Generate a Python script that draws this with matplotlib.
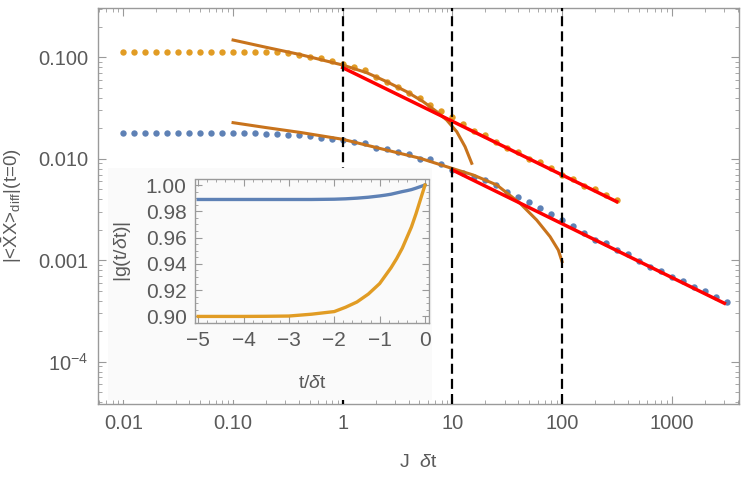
import matplotlib
matplotlib.use("Agg")
import matplotlib.pyplot as plt
from matplotlib.patches import Rectangle
from matplotlib.ticker import LogLocator, MultipleLocator, NullFormatter

plt.rcParams['font.family'] = ['Liberation Sans', 'DejaVu Sans']
plt.rcParams['mathtext.fontset'] = 'custom'
plt.rcParams['mathtext.rm'] = 'Liberation Sans'
plt.rcParams['mathtext.it'] = 'Liberation Sans:italic'

# dots: J dt = 10^(-2 + 0.1 k)
k_orange = list(range(46))
k_blue = list(range(56))
orange_dots = [0.112] * 15 + [
    0.1095, 0.1054, 0.1014, 0.0984, 0.0919, 0.0859, 0.0808, 0.0750, 0.0644, 0.0567,
    0.0506, 0.0448, 0.0397, 0.0339, 0.0296, 0.0256, 0.0220, 0.0189, 0.0170, 0.0146,
    0.0127, 0.0117, 0.00989, 0.00924, 0.00806, 0.00692, 0.00628, 0.00540, 0.00501,
    0.00440, 0.00393]
blue_dots = [0.01783] * 13 + [
    0.01755, 0.01743, 0.01716, 0.01697, 0.01666, 0.01614, 0.0157, 0.0154, 0.01474,
    0.01421, 0.01269, 0.01241, 0.01175, 0.01115, 0.00989, 0.00989, 0.00883, 0.00784,
    0.00725, 0.00666, 0.00618, 0.00552, 0.00474, 0.00418, 0.00378, 0.00330, 0.00286,
    0.00248, 0.00216, 0.00185, 0.00160, 0.00147, 0.00126, 0.00115, 0.000991, 0.000865,
    0.000785, 0.000690, 0.000625, 0.000542, 0.000498, 0.000432, 0.000391]

# short-time curves
brown_o_t = [0.1, 0.2, 0.408, 1.0, 1.655, 2.52, 3.83, 5.43, 7.2, 8.87, 10.95, 13.04, 15.0]
brown_o_y = [0.148, 0.1255, 0.1065, 0.0839, 0.0705, 0.0575, 0.0458, 0.0365, 0.0291, 0.0241,
             0.0185, 0.01316, 0.00903]
brown_b_t = [0.1, 0.2, 0.408, 1.0, 2.345, 5.07, 9.86, 15.5, 25.4, 41.4, 58.7, 77.7, 92.4, 100.0]
brown_b_y = [0.0227, 0.0203, 0.0182, 0.01556, 0.01241, 0.01012, 0.00806, 0.00692, 0.00552,
             0.00364, 0.00249, 0.00171, 0.00126, 0.000969]

# power-law fits
red_o_t = [1.0, 315.0]
red_o_y = [0.0790, 0.00378]
red_b_t = [10.0, 3020.0]
red_b_y = [0.00776, 0.000377]

vlines = [1, 10, 100]

# inset
t_in = [-5, -4, -3.5, -3, -2.5, -2, -1.75, -1.5, -1.25, -1, -0.875, -0.75, -0.625, -0.5,
        -0.4, -0.3, -0.2, -0.1, -0.05, 0]
g_blue = [0.989, 0.989, 0.989, 0.989, 0.989, 0.9892, 0.9895, 0.990, 0.9907, 0.9917, 0.9923,
          0.993, 0.994, 0.995, 0.9957, 0.9965, 0.9976, 0.9988, 0.9994, 1.0]
g_orange = [0.900, 0.900, 0.9001, 0.9003, 0.9017, 0.9037, 0.907, 0.911, 0.917, 0.925, 0.931,
            0.937, 0.944, 0.952, 0.960, 0.968, 0.978, 0.989, 0.9945, 1.0]

xticks = [0.01, 0.1, 1, 10, 100, 1000]
xticklabels = ['0.01', '0.10', '1', '10', '100', '1000']
yticks = [1e-4, 1e-3, 1e-2, 1e-1]
yticklabels = [r'$\mathregular{10^{-4}}$', '0.001', '0.010', '0.100']

c_blue = '#5E81B5'
c_orange = '#E19C24'
c_brown = '#C8731C'
c_red = '#FF0000'
c_frame = '#9a9a9a'
c_text = '#5a5a5a'

fig = plt.figure(figsize=(7.5, 4.8), dpi=100)
ax = fig.add_axes([97.7 / 750, 1 - 404.3 / 480, (739.3 - 97.7) / 750, (404.3 - 8.3) / 480])
ax.set_xscale('log')
ax.set_yscale('log')

to = [10 ** (-2 + 0.1 * k) for k in k_orange]
tb = [10 ** (-2 + 0.1 * k) for k in k_blue]
ax.plot(to, orange_dots, 'o', color=c_orange, ms=4.6, mec='none', zorder=2)
ax.plot(tb, blue_dots, 'o', color=c_blue, ms=4.6, mec='none', zorder=2)
ax.plot(brown_o_t, brown_o_y, color=c_brown, lw=2.2, zorder=3)
ax.plot(brown_b_t, brown_b_y, color=c_brown, lw=2.2, zorder=3)
ax.plot(red_o_t, red_o_y, color=c_red, lw=2.5, zorder=4)
ax.plot(red_b_t, red_b_y, color=c_red, lw=2.5, zorder=4)
for v in vlines:
    ax.axvline(v, color='black', lw=1.6, dashes=(4.5, 2.3), zorder=5)

ax.set_xlim(0.00583, 4130)
ax.set_ylim(3.81e-5, 0.304)
ax.set_xticks(xticks)
ax.set_xticklabels(xticklabels)
ax.set_yticks(yticks)
ax.set_yticklabels(yticklabels)
ax.xaxis.set_minor_locator(LogLocator(base=10, subs=range(2, 10), numticks=20))
ax.yaxis.set_minor_locator(LogLocator(base=10, subs=range(2, 10), numticks=20))
ax.xaxis.set_minor_formatter(NullFormatter())
ax.yaxis.set_minor_formatter(NullFormatter())
ax.tick_params(which='both', direction='in', top=True, right=True, color=c_frame,
               labelcolor=c_text, labelsize=14.5)
ax.tick_params(which='major', length=6, width=0.8, pad=7)
ax.tick_params(which='minor', length=3, width=0.6)
for s in ax.spines.values():
    s.set_color(c_frame)
    s.set_linewidth(1.0)

ax.set_xlabel(r'J  $\delta$t', fontsize=14, color=c_text, labelpad=15)
# y label placed by hand, centred at x = 12 px
fig.text(12 / 750, 1 - 206 / 480,
         '|<' + r'$\bar{\mathrm{X}}$' + 'X>' + r'$_{\mathregular{diff}}$' + '|(t=0)',
         fontsize=13.5, color=c_text, rotation=90, ha='center', va='center')

# background of the inset
bg = Rectangle((108 / 750, 1 - 400 / 480), (432 - 108) / 750, (400 - 168) / 480,
               transform=fig.transFigure, facecolor='#fafafa', edgecolor='none', zorder=1)
fig.patches.append(bg)

ins = fig.add_axes([195 / 750, 1 - 323 / 480, (428.5 - 195) / 750, (323 - 179.5) / 480], zorder=2)
ins.plot(t_in, g_blue, color=c_blue, lw=2.4)
ins.plot(t_in, g_orange, color=c_orange, lw=2.4)
ins.set_xlim(-5.07, 0.077)
ins.set_ylim(0.895, 1.0042)
ins.set_xticks([-5, -4, -3, -2, -1, 0])
ins.set_xticklabels(['\u22125', '\u22124', '\u22123', '\u22122', '\u22121', '0'])
ins.set_yticks([0.90, 0.92, 0.94, 0.96, 0.98, 1.00])
ins.set_yticklabels(['0.90', '0.92', '0.94', '0.96', '0.98', '1.00'])
ins.xaxis.set_minor_locator(MultipleLocator(0.2))
ins.yaxis.set_minor_locator(MultipleLocator(0.005))
ins.tick_params(which='both', direction='in', top=True, right=True, color=c_frame,
                labelcolor=c_text, labelsize=15)
ins.tick_params(which='major', length=5, width=0.8, pad=6)
ins.tick_params(which='minor', length=2.5, width=0.6)
for s in ins.spines.values():
    s.set_color(c_frame)
    s.set_linewidth(1.0)
ins.set_facecolor('#fafafa')
ins.set_ylabel(r'|g(t/$\delta$t)|', fontsize=14, color=c_text, labelpad=9)
fig.text(312 / 750, 1 - 383 / 480, r't/$\delta$t', fontsize=14, color=c_text,
         ha='center', va='center', zorder=3)

fig.savefig('out.png', dpi=100)
